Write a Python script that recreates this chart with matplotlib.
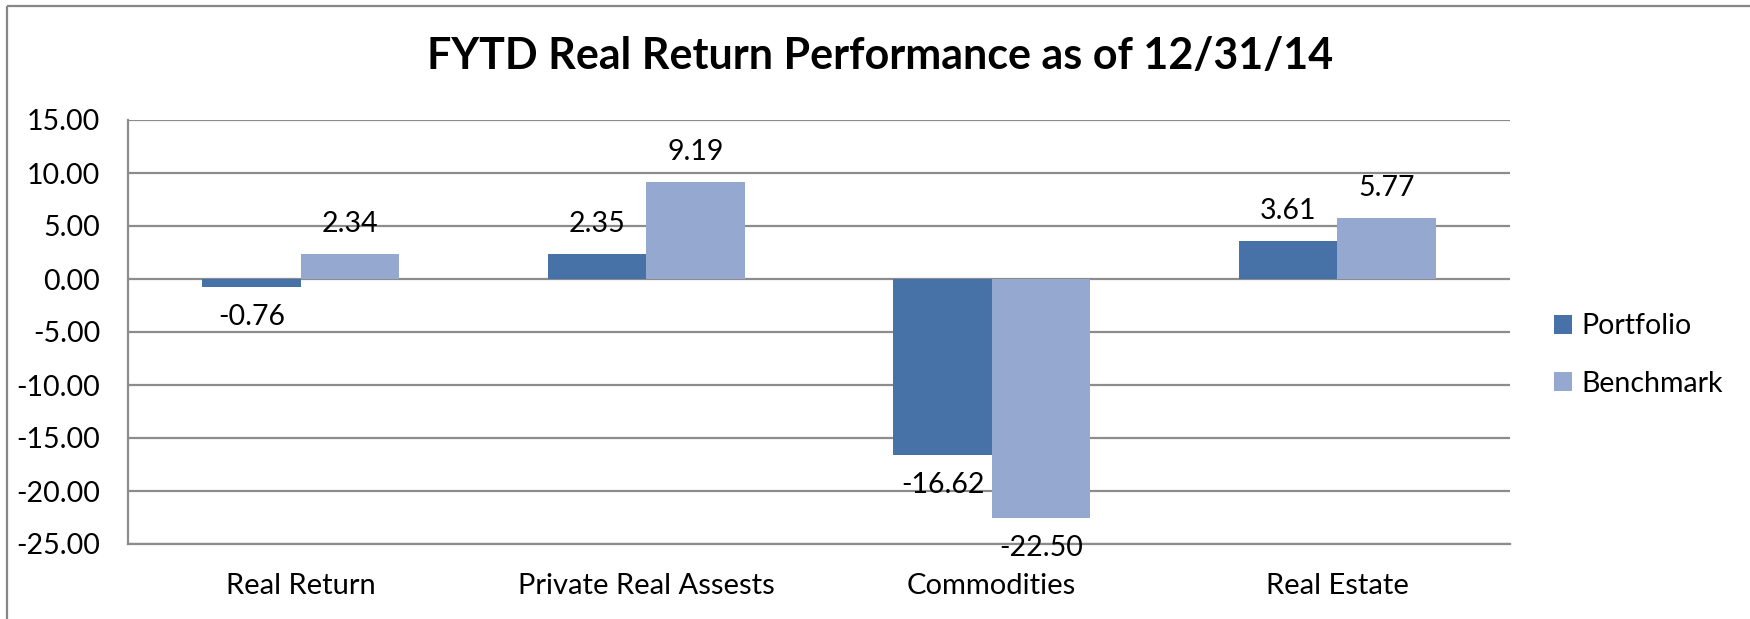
import matplotlib
matplotlib.use("Agg")
import matplotlib.pyplot as plt
import numpy as np
from matplotlib.patches import Patch
from matplotlib.lines import Line2D

categories = ["Real Return", "Private Real Assests", "Commodities", "Real Estate"]
portfolio = [-0.76, 2.35, -16.62, 3.61]
benchmark = [2.34, 9.19, -22.50, 5.77]
series_names = ["Portfolio", "Benchmark"]
yticks = [15, 10, 5, 0, -5, -10, -15, -20, -25]
title = "FYTD Real Return Performance as of 12/31/14"

plt.rcParams['font.family'] = ['Lato', 'DejaVu Sans']

W, H, DPI = 1750, 619, 100
fig = plt.figure(figsize=(W / DPI, H / DPI), dpi=DPI)

# outer chart border (top and left visible)
fig.add_artist(Line2D([7 / W, 7 / W], [0, 1 - 6 / H], transform=fig.transFigure,
                      color="#878787", lw=1.6, solid_capstyle="butt"))
fig.add_artist(Line2D([7 / W, 1], [1 - 6 / H, 1 - 6 / H], transform=fig.transFigure,
                      color="#878787", lw=1.6, solid_capstyle="butt"))

left, right, top, bottom = 128, 1510, 120, 544
ax = fig.add_axes([left / W, 1 - bottom / H, (right - left) / W, (bottom - top) / H])

c_port = "#4672A7"
c_bench = "#95A9D0"
x = np.arange(len(categories))
bw = 0.285
b1 = ax.bar(x - bw / 2, portfolio, bw, color=c_port, zorder=3, label=series_names[0])
b2 = ax.bar(x + bw / 2, benchmark, bw, color=c_bench, zorder=3, label=series_names[1])

ax.set_xlim(-0.5, len(categories) - 0.5)
ax.set_ylim(-25, 15)
ax.set_yticks(yticks)
ax.set_yticklabels([f"{v:.2f}" for v in yticks], fontsize=20.5)
ax.set_xticks(x)
ax.set_xticklabels(categories, fontsize=21)
ax.tick_params(axis='both', length=0, colors="black")
ax.tick_params(axis='y', pad=20)
ax.tick_params(axis='x', pad=21)
ax.yaxis.grid(True, color="#8C8C8C", lw=1.6, zorder=0)
ax.set_axisbelow(True)
for s in ["top", "right"]:
    ax.spines[s].set_visible(False)
for s in ["left", "bottom"]:
    ax.spines[s].set_color("#8C8C8C")
    ax.spines[s].set_linewidth(1.6)

off = 30 * 72 / DPI
for bars, vals in ((b1, portfolio), (b2, benchmark)):
    for rect, v in zip(bars, vals):
        cx = rect.get_x() + rect.get_width() / 2
        ax.annotate(f"{v:.2f}", (cx, v), xytext=(0, off if v >= 0 else -off),
                    textcoords="offset points", ha="center", va="center",
                    fontsize=20.5, annotation_clip=False, zorder=5)

fig.text(0.503, 1 - 56 / H, title, ha="center", va="center", fontsize=31, fontweight="bold")

handles = [Patch(facecolor=c_port), Patch(facecolor=c_bench)]
fig.legend(handles, series_names, loc="center left", bbox_to_anchor=(1540 / W, 1 - 355 / H),
           frameon=False, fontsize=20.5, handlelength=0.62, handleheight=0.62,
           handletextpad=0.35, labelspacing=1.1, borderpad=0)

fig.savefig("out.png", dpi=DPI)
